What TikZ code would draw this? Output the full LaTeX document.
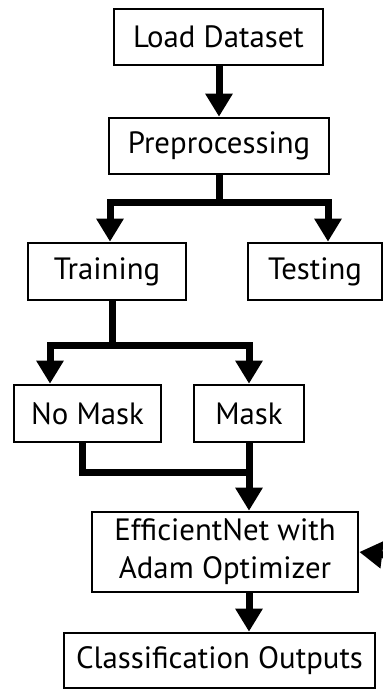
\documentclass[tikz,border=0pt]{standalone}
\usepackage{fontspec}
\setmainfont{PT Sans}
\usetikzlibrary{arrows.meta,calc}
\begin{document}
\begin{tikzpicture}[x=1pt,y=-1pt,
  box/.style={draw=black,line width=2.6pt,rectangle,inner sep=0pt,
    font=\fontsize{30.8}{38}\selectfont,align=center},
  conn/.style={line width=7pt,line join=miter,line cap=butt},
  arr/.style={conn,-{Triangle[width=26pt,length=23pt]}}]
\useasboundingbox (0,0) rectangle (383,689);
\fill[white] (0,0) rectangle (383,689);
\node[box,minimum width=209pt,minimum height=56pt] (load) at (218.5,37) {Load Dataset};
\node[box,minimum width=220pt,minimum height=56pt] (pre) at (219,146) {Preprocessing};
\node[box,minimum width=158pt,minimum height=57pt] (train) at (107,271.5) {Training};
\node[box,minimum width=134pt,minimum height=57pt] (test) at (315,271.5) {Testing};
\node[box,minimum width=147pt,minimum height=57pt] (nomask) at (87.5,413.5) {No Mask};
\node[box,minimum width=110pt,minimum height=57pt] (mask) at (249,413.5) {Mask};
\node[box,minimum width=266pt,minimum height=80pt] (eff) at (225,552) {EfficientNet with\\Adam Optimizer};
\node[box,minimum width=311pt,minimum height=55pt] (cls) at (219.5,660.5) {Classification Outputs};
\coordinate (s1) at (219,202);
\coordinate (s2) at (112,345);
\coordinate (s3) at (249,472);
\coordinate (r) at (384,555);
\draw[arr] ([xshift=0.5pt]load.south) -- ([xshift=0.5pt]load.south |- pre.north);
\draw[conn] (pre.south) -- (s1);
\draw[arr] (s1) -| ([xshift=3pt]train.north);
\draw[arr] (s1) -| ([xshift=13pt]test.north);
\draw[conn] (s2 |- train.south) -- (s2);
\draw[arr] (s2) -| ([xshift=-37.5pt]nomask.north);
\draw[arr] (s2) -| (mask.north);
\draw[conn] ([xshift=-5.5pt]nomask.south) |- (s3);
\draw[conn] (mask.south) -- (s3);
\draw[arr] (s3) -- (s3 |- eff.north);
\draw[arr] (s3 |- eff.south) -- (s3 |- cls.north);
\draw[arr] (r) -- (eff.east);
\end{tikzpicture}
\end{document}
